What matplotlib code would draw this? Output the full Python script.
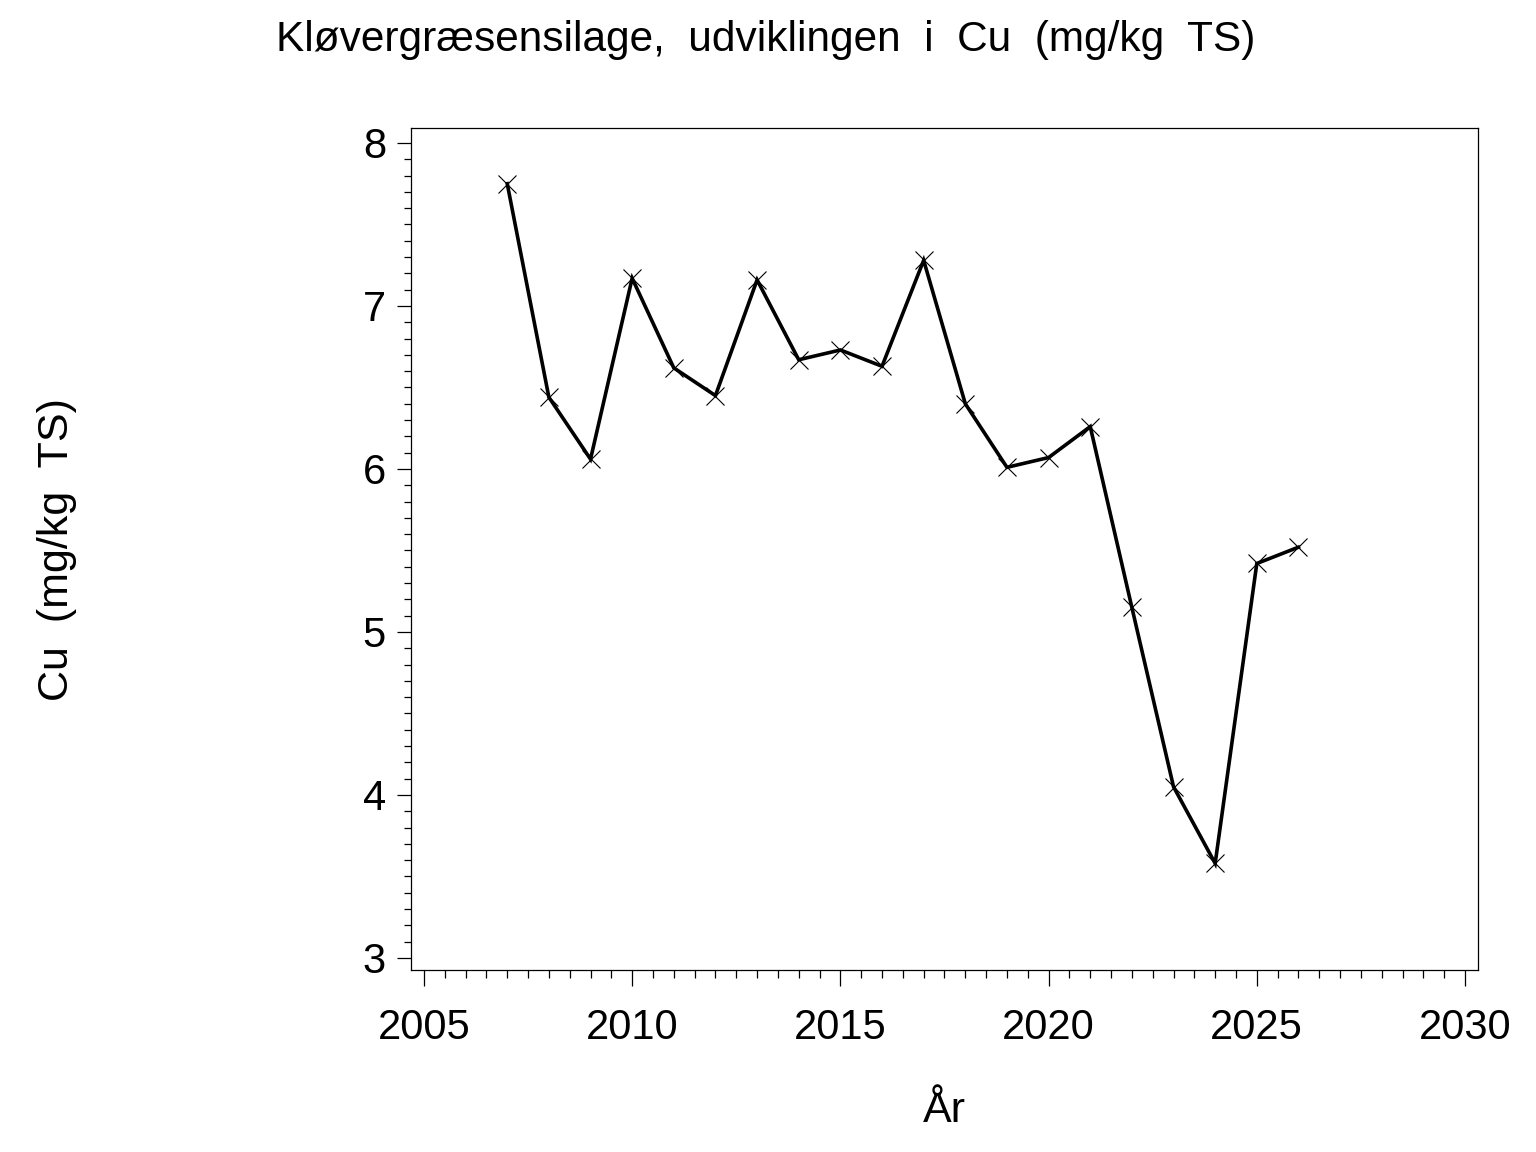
import matplotlib
matplotlib.use("Agg")
import matplotlib.pyplot as plt
from matplotlib.ticker import MultipleLocator

plt.rcParams["font.family"] = ["Liberation Sans", "DejaVu Sans"]

# Data
years = [2007, 2008, 2009, 2010, 2011, 2012, 2013, 2014, 2015, 2016,
         2017, 2018, 2019, 2020, 2021, 2022, 2023, 2024, 2025, 2026]
cu = [7.75, 6.44, 6.06, 7.17, 6.62, 6.45, 7.16, 6.67, 6.73, 6.63,
      7.28, 6.40, 6.01, 6.07, 6.26, 5.15, 4.05, 3.58, 5.42, 5.52]

xticks = [2005, 2010, 2015, 2020, 2025, 2030]
yticks = [3, 4, 5, 6, 7, 8]

fig = plt.figure(figsize=(15.36, 11.52), dpi=100)
ax = fig.add_axes([0.2676, 0.158, 0.6946, 0.7309])

ax.plot(years, cu, color="black", linewidth=2.6, marker="x",
        markersize=13, markeredgewidth=0.8, solid_joinstyle="miter")

ax.set_xlim(2004.69, 2030.31)
ax.set_ylim(2.926, 8.092)
ax.set_xticks(xticks)
ax.set_yticks(yticks)
ax.xaxis.set_minor_locator(MultipleLocator(0.5))
ax.yaxis.set_minor_locator(MultipleLocator(0.1))

for s in ax.spines.values():
    s.set_linewidth(0.9)

ax.tick_params(axis="x", which="major", direction="out", length=11.5, width=0.9,
               labelsize=30, pad=16)
ax.tick_params(axis="x", which="minor", direction="out", length=5.5, width=0.9)
ax.tick_params(axis="y", which="major", direction="out", length=10, width=0.9,
               labelsize=30, pad=8)
ax.tick_params(axis="y", which="minor", direction="out", length=5, width=0.9)

fig.text(0.4987, 0.965, "Kløvergræsensilage,  udviklingen  i  Cu  (mg/kg  TS)",
         ha="center", va="center", fontsize=30.5)
fig.text(0.037, 0.523, "Cu  (mg/kg  TS)", rotation=90,
         ha="center", va="center", fontsize=31)
fig.text(0.6149, 0.036, "År", ha="center", va="center", fontsize=31)

fig.savefig("out.png", dpi=100, facecolor="white")
